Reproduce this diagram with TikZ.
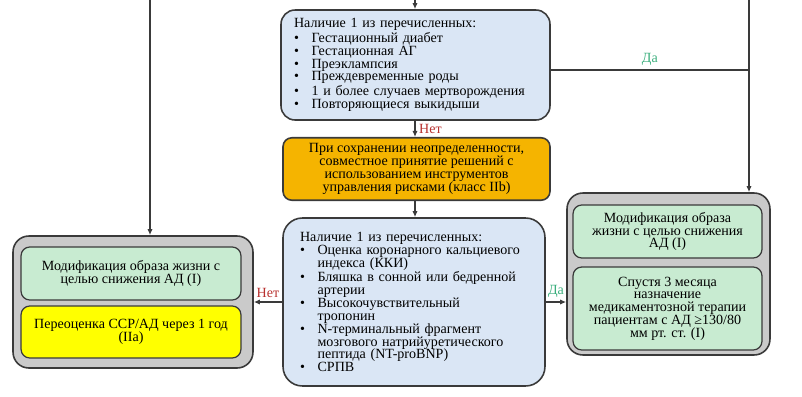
\documentclass[tikz,border=0pt]{standalone}
\usepackage{fontspec}
\setmainfont{Liberation Serif}
\usepackage{tikz}
\usetikzlibrary{arrows.meta, positioning, calc}
\definecolor{cvLine}{HTML}{3A3A3A}
\definecolor{cvBlue}{HTML}{DAE6F5}
\definecolor{cvOrange}{HTML}{F5B400}
\definecolor{cvGray}{HTML}{CACACA}
\definecolor{cvGreen}{HTML}{C8EBD1}
\definecolor{cvYellow}{HTML}{FFFF00}
\definecolor{cvNo}{HTML}{B8312F}
\definecolor{cvYes}{HTML}{3AAE7C}
\newcommand{\bitem}[1]{\par\noindent\hangindent=10pt\hangafter=1\makebox[10pt][l]{\textbullet}#1}
\tikzset{
  cv-cond/.style={
    rectangle, rounded corners=8pt, draw=cvLine, line width=0.9pt, fill=cvBlue,
    align=left, inner ysep=0pt
  },
  cv-decide/.style={
    rectangle, rounded corners=5pt, draw=cvLine, line width=0.9pt, fill=cvOrange,
    align=center, minimum width=5.34cm, minimum height=1.24cm
  },
  cv-group/.style={
    rectangle, rounded corners=9pt, draw=cvLine, line width=0.9pt, fill=cvGray
  },
  cv-act/.style={
    rectangle, rounded corners=5pt, draw=cvLine, line width=0.7pt, fill=cvGreen,
    align=center, inner sep=1pt
  },
  cv-flow/.style={-{Latex[length=3.5pt, width=3pt]}, line width=0.7pt, draw=cvLine},
  cv-join/.style={line width=0.7pt, draw=cvLine},
  cv-no/.style={text=cvNo, inner sep=2pt},
  cv-yes/.style={text=cvYes, inner sep=2pt},
}

\begin{document}
\begin{tikzpicture}[x=0.02cm, y=-0.02cm, font=\fontsize{8}{7.3}\selectfont]
  \useasboundingbox (0,0) rectangle (802,396);

  % conditions and shared decision
  \node[cv-cond, minimum width=5.38cm, minimum height=2.2cm, text width=4.86cm, inner xsep=0.26cm]
    (q1) at (415.5,65) {Наличие 1 из перечисленных:
      \bitem{Гестационный диабет}
      \bitem{Гестационная АГ}
      \bitem{Преэклампсия}
      \bitem{Преждевременные роды}
      \bitem{1 и более случаев мертворождения}
      \bitem{Повторяющиеся выкидыши}};
  \node[cv-decide] (q2) at (416.5,169)
    {При сохранении неопределенности,\\ совместное принятие решений с\\ использованием инструментов\\ управления рисками (класс IIb)};
  \node[cv-cond, rounded corners=11pt, minimum width=5.24cm, minimum height=3.36cm, text width=4.56cm, inner xsep=0.34cm]
    (q3) at (414,302) {Наличие 1 из перечисленных:
      \bitem{Оценка коронарного кальциевого\newline индекса (ККИ)}
      \bitem{Бляшка в сонной или бедренной\newline артерии}
      \bitem{Высокочувствительный\newline тропонин}
      \bitem{N-терминальный фрагмент\newline мозгового натрийуретического\newline пептида (NT-proBNP)}
      \bitem{СРПВ}};

  % left outcome
  \node[cv-group, minimum width=4.8cm, minimum height=2.64cm] (lgrp) at (133,302) {};
  \node[cv-act, minimum width=4.4cm, minimum height=1.06cm] (lmod) at (131,273.5)
    {Модификация образа жизни с\\ целью снижения АД (I)};
  \node[cv-act, fill=cvYellow, minimum width=4.4cm, minimum height=1.04cm] (lre) at (131,332)
    {Переоценка ССР/АД через 1 год\\ (IIa)};

  % right outcome
  \node[cv-group, minimum width=4.06cm, minimum height=3.24cm] (rgrp) at (668.5,274) {};
  \node[cv-act, minimum width=3.78cm, minimum height=1.06cm] (rmod) at (667.5,231.5)
    {Модификация образа\\ жизни с целью снижения\\ АД (I)};
  \node[cv-act, minimum width=3.78cm, minimum height=1.66cm] (rdrug) at (667.5,308.5)
    {Спустя 3 месяца\\ назначение\\ медикаментозной терапии\\ пациентам с АД ≥130/80\\ мм рт. ст. (I)};

  % incoming lines from above
  \coordinate (qtop) at (415,0);
  \coordinate (ltop) at (150,0);
  \coordinate (rtop) at (749,0);
  \coordinate (yesjoin) at (749,70);

  \draw[cv-flow] (qtop) -- (qtop |- q1.north);
  \draw[cv-flow] (ltop) -- (ltop |- lgrp.north);
  \draw[cv-flow] (rtop) -- (rtop |- rgrp.north);
  \draw[cv-join] (q1.east |- yesjoin) -- node[above, cv-yes] {Да} (yesjoin);
  \draw[cv-flow] (q1.south -| qtop) -- node[right, cv-no] {Нет} (qtop |- q2.north);
  \draw[cv-flow] (q2.south -| qtop) -- (qtop |- q3.north);
  \draw[cv-flow] (q3.west) -- node[above, cv-no] {Нет} (lgrp.east);
  \draw[cv-flow] (q3.east) -- node[above, cv-yes] {Да} (q3.east -| rgrp.west);
\end{tikzpicture}
\end{document}
